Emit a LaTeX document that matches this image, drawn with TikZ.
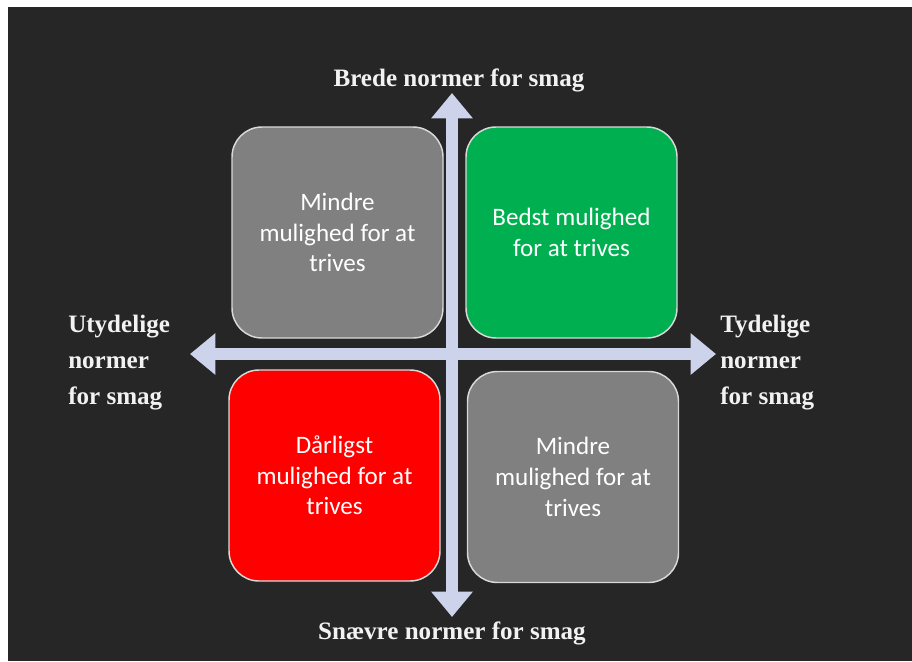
\documentclass[tikz,border=0pt]{standalone}
\usepackage{fontspec}
\setmainfont{Liberation Serif}
\newfontfamily\boxfont{Carlito}
\usetikzlibrary{arrows.meta}
\definecolor{bgdark}{HTML}{262626}
\definecolor{arrowcol}{HTML}{CDD3EA}
\definecolor{boxgray}{HTML}{808080}
\definecolor{boxgreen}{HTML}{00B050}
\definecolor{boxred}{HTML}{FF0000}
\definecolor{edgecol}{HTML}{D9D9D9}
\definecolor{labelcol}{HTML}{F2F2F2}
\tikzset{
  quad/.style={draw=edgecol, line width=1.1pt, rounded corners=22.5pt,
    minimum width=158.25pt, minimum height=158.25pt, align=center,
    text=white, font=\boxfont\fontsize{18.8}{23}\selectfont, inner sep=0pt},
  axislabel/.style={text=labelcol, font=\bfseries\fontsize{18.8}{27}\selectfont, inner sep=0pt},
  axisarrow/.style={draw=arrowcol, line width=9pt,
    {Triangle[width=30pt,length=19pt]}-{Triangle[width=30pt,length=19pt]}}
}
\begin{document}
\begin{tikzpicture}[x=0.75pt,y=-0.75pt]
\useasboundingbox (0,0) rectangle (912,661);
\fill[white] (0,0) rectangle (912,661);
\fill[bgdark] (8,7) rectangle (912,661);
\node[quad, fill=boxgray] (tl) at (337.5,232.5) {Mindre\\mulighed for at\\trives};
\node[quad, fill=boxgreen] (tr) at (571.5,232.5) {Bedst mulighed\\for at trives};
\node[quad, fill=boxred] (bl) at (334.5,475.5) {Dårligst\\mulighed for at\\trives};
\node[quad, fill=boxgray] (br) at (573,477) {Mindre\\mulighed for at\\trives};
\coordinate (top) at (452,93);
\coordinate (bottom) at (452,617);
\coordinate (left) at (190,354);
\coordinate (right) at (716,354);
\draw[axisarrow] (bottom) -- (top);
\draw[axisarrow] (left) -- (right);
\node[axislabel] (toplabel) at (459,80) {Brede normer for smag};
\node[axislabel] (bottomlabel) at (452,633) {Snævre normer for smag};
\node[axislabel, anchor=west, align=left] (leftlabel) at (68,363) {Utydelige\\normer\\for smag};
\node[axislabel, anchor=west, align=left] (rightlabel) at (720,363) {Tydelige\\normer\\for smag};
\end{tikzpicture}
\end{document}
